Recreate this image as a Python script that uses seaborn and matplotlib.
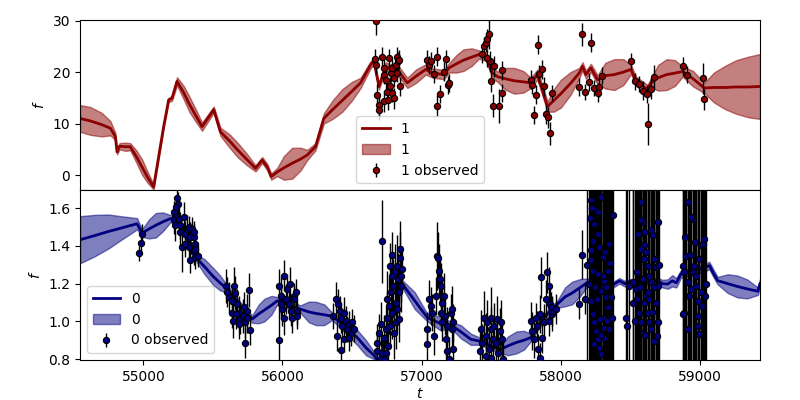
import matplotlib
matplotlib.use("Agg")
import matplotlib.pyplot as plt
import seaborn as sns
import numpy as np

# ---- band 1 (top panel): GP mean / sigma and observations ----
t_pred_1 = [54545, 54620, 54700, 54763, 54799, 54811, 54829, 54870, 54906, 54950,
            54990, 55030, 55074, 55146, 55182, 55206, 55242, 55290, 55330, 55380,
            55422, 55506, 55554, 55620, 55680, 55745, 55806, 55854, 55890, 55919,
            55962, 56010, 56070, 56130, 56178, 56237, 56297, 56360, 56430, 56500,
            56561, 56633, 56657, 56693, 56741, 56801, 56835, 56897, 56960, 57029,
            57077, 57160, 57196, 57250, 57300, 57360, 57412, 57460, 57509, 57545,
            57600, 57665, 57730, 57784, 57832, 57904, 57950, 58000, 58070, 58132,
            58156, 58180, 58216, 58264, 58320, 58384, 58450, 58504, 58540, 58624,
            58647, 58700, 58760, 58820, 58875, 58950, 59031, 59100, 59180, 59260,
            59350, 59431]
mean_1 = [11.0, 10.5, 9.8, 9.1, 7.5, 4.5, 5.6, 5.5, 5.5, 3.6,
          1.6, -0.4, -2.3, 9.4, 14.6, 14.9, 18.2, 16.0, 13.8, 11.4,
          9.4, 12.7, 8.4, 6.6, 4.8, 3.0, 1.3, 2.9, 1.6, -0.3,
          0.6, 1.4, 2.3, 3.1, 3.9, 5.5, 11.0, 12.7, 14.5, 16.3,
          17.9, 21.4, 22.1, 17.2, 21.1, 20.1, 20.1, 17.9, 19.2, 20.5,
          19.8, 19.5, 20.8, 21.6, 22.3, 22.9, 23.4, 23.0, 19.8, 19.1,
          18.7, 18.3, 18.1, 17.9, 19.5, 13.3, 14.5, 15.8, 17.8, 19.8,
          21.1, 19.5, 20.8, 18.5, 19.3, 19.5, 20.0, 20.5, 18.2, 16.6,
          17.9, 18.9, 19.5, 19.8, 20.1, 18.7, 16.9, 17.0, 17.0, 17.1,
          17.1, 17.2]
sd_1 = [2.6, 2.7, 2.3, 1.4, 0.7, 0.5, 0.6, 0.8, 0.7, 1.2,
        1.5, 1.1, 0.5, 0.4, 0.4, 0.5, 0.8, 1.3, 1.5, 1.2,
        0.8, 0.6, 0.8, 1.3, 1.4, 1.1, 0.6, 0.6, 0.6, 0.6,
        0.8, 2.3, 3.0, 2.2, 1.0, 0.7, 1.0, 1.8, 2.2, 1.8,
        1.0, 0.7, 0.6, 0.6, 0.8, 1.0, 1.0, 1.0, 1.3, 1.0,
        0.9, 0.9, 0.9, 1.7, 2.1, 1.7, 0.8, 0.8, 1.0, 1.0,
        2.1, 2.5, 2.1, 1.0, 1.0, 1.0, 2.2, 2.7, 2.2, 1.0,
        0.8, 0.8, 0.8, 0.9, 2.5, 3.0, 2.5, 0.9, 0.9, 0.9,
        0.9, 2.5, 3.0, 2.5, 1.0, 1.5, 1.0, 2.9, 4.2, 5.2,
        5.9, 6.3]

t_obs_1 = [56662, 56669, 56669, 56681, 56693, 56693, 56717, 56729, 56729, 56729,
           56741, 56748, 56757, 56765, 56772, 56777, 56789, 56789, 56801, 56801,
           56813, 56820, 56825, 56829, 56837, 56844, 57041, 57053, 57065, 57089,
           57108, 57113, 57132, 57160, 57173, 57189, 57199, 57436, 57448, 57460,
           57468, 57484, 57491, 57473, 57496, 57516, 57520, 57556, 57580, 57580,
           57784, 57796, 57808, 57820, 57839, 57844, 57868, 57880, 57892, 57909,
           57923, 57940, 58132, 58151, 58173, 58204, 58216, 58235, 58264, 58276,
           58293, 58504, 58532, 58563, 58588, 58619, 58624, 58647, 58667, 58875,
           58904, 59019, 59031]
f_obs_1 = [22.6, 29.9, 21.4, 15.6, 13.6, 12.7, 23.0, 20.8, 19.5, 14.3,
           18.5, 16.2, 14.6, 22.7, 17.2, 19.8, 20.8, 15.9, 14.9, 18.8,
           21.4, 19.8, 23.0, 22.1, 22.4, 17.2, 22.4, 21.4, 22.1, 19.6,
           13.5, 23.0, 15.7, 20.1, 22.5, 17.5, 17.9, 23.5, 25.0, 25.7,
           26.5, 27.4, 22.1, 22.7, 18.2, 13.5, 21.1, 13.5, 20.3, 15.9,
           18.5, 17.5, 11.7, 15.6, 25.3, 19.6, 20.5, 17.2, 11.8, 11.2,
           8.1, 15.9, 17.1, 27.3, 16.1, 18.1, 25.7, 16.9, 16.0, 17.0,
           19.3, 22.1, 18.2, 17.7, 16.4, 15.7, 9.9, 16.8, 19.0, 21.1,
           19.5, 18.8, 14.7]
e_obs_1 = [1.8, 2.8, 1.8, 2.0, 2.0, 2.0, 1.8, 1.8, 1.8, 2.0,
           1.8, 1.8, 2.0, 1.8, 1.8, 1.8, 1.8, 1.8, 2.0, 1.8,
           1.8, 1.8, 1.8, 1.8, 1.8, 1.8, 1.8, 1.8, 1.8, 1.8,
           2.0, 1.8, 1.8, 1.8, 1.8, 1.8, 1.8, 1.8, 1.8, 1.8,
           1.8, 3.0, 2.0, 1.8, 2.0, 2.3, 2.0, 3.3, 1.8, 1.8,
           1.8, 1.8, 1.8, 1.8, 1.8, 1.8, 1.8, 1.8, 1.8, 2.0,
           2.2, 1.5, 1.8, 2.3, 1.6, 1.8, 1.8, 1.6, 1.8, 1.8,
           1.6, 1.6, 1.6, 1.6, 1.8, 1.8, 4.0, 2.0, 2.3, 1.8,
           1.6, 3.0, 2.0]

# ---- band 0 (bottom panel) ----
t_pred_0 = [54545, 54650, 54750, 54850, 54955, 54991, 55040, 55090, 55140, 55194,
            55250, 55310, 55386, 55440, 55500, 55550, 55602, 55700, 55782, 55830,
            55870, 55920, 55962, 56129, 56190, 56240, 56300, 56357, 56450, 56537,
            56600, 56657, 56690, 56760, 56820, 56861, 56950, 57041, 57130, 57221,
            57281, 57353, 57412, 57500, 57568, 57620, 57680, 57735, 57784, 57868,
            57976, 58030, 58080, 58140, 58192, 58240, 58288, 58330, 58370, 58420,
            58460, 58500, 58560, 58620, 58696, 58730, 58768, 58800, 58830, 58863,
            58920, 58980, 59030, 59067, 59100, 59127, 59200, 59270, 59340, 59415,
            59431]
mean_0 = [1.433, 1.455, 1.477, 1.497, 1.518, 1.468, 1.490, 1.510, 1.528, 1.545,
          1.540, 1.450, 1.332, 1.290, 1.240, 1.205, 1.172, 1.080, 1.012, 1.040,
          1.060, 1.085, 1.109, 1.065, 1.050, 1.042, 1.035, 1.027, 0.975, 0.914,
          0.860, 0.820, 0.785, 0.950, 1.120, 1.198, 1.110, 1.020, 0.990, 0.975,
          0.945, 0.905, 0.896, 0.870, 0.852, 0.870, 0.888, 0.900, 0.914, 1.012,
          1.092, 1.130, 1.150, 1.180, 1.207, 1.200, 1.198, 1.212, 1.192, 1.215,
          1.200, 1.210, 1.195, 1.210, 1.216, 1.200, 1.198, 1.215, 1.205, 1.252,
          1.262, 1.272, 1.285, 1.296, 1.250, 1.216, 1.200, 1.185, 1.172, 1.160,
          1.200]
sd_0 = [0.125, 0.110, 0.090, 0.060, 0.030, 0.020, 0.050, 0.065, 0.050, 0.020,
        0.020, 0.020, 0.020, 0.040, 0.045, 0.040, 0.020, 0.020, 0.020, 0.050,
        0.060, 0.050, 0.020, 0.020, 0.055, 0.062, 0.055, 0.020, 0.035, 0.040,
        0.040, 0.020, 0.020, 0.020, 0.020, 0.020, 0.045, 0.020, 0.035, 0.020,
        0.035, 0.030, 0.020, 0.020, 0.020, 0.050, 0.058, 0.050, 0.020, 0.020,
        0.020, 0.050, 0.060, 0.045, 0.020, 0.015, 0.015, 0.015, 0.015, 0.015,
        0.015, 0.015, 0.015, 0.015, 0.015, 0.020, 0.025, 0.030, 0.025, 0.020,
        0.020, 0.020, 0.020, 0.020, 0.020, 0.020, 0.050, 0.058, 0.050, 0.020,
        0.025]

t_obs_0 = [54970, 54985, 54990,
           55218, 55230, 55223, 55242, 55247, 55237, 55225, 55254, 55266, 55290,
           55266, 55278, 55302, 55314, 55326, 55338, 55350, 55338, 55362, 55374,
           55362, 55374, 55338, 55391, 55326, 55302, 55362, 55374,
           55597, 55602, 55614, 55638, 55655, 55662, 55674, 55638, 55645, 55686,
           55698, 55717, 55734, 55746, 55758, 55734, 55770, 55686, 55746, 55722,
           55669,
           55974, 55978, 56014, 55986, 55998, 56009, 56022, 56034, 56053, 56045,
           56062, 56069, 56081, 56094, 56101, 55986, 56081, 56105,
           56388, 56398, 56365, 56416, 56417, 56429, 56393, 56422, 56441, 56453,
           56465, 56477, 56489, 56501, 56513, 56441, 56477,
           56712, 56681, 56676, 56693, 56705, 56717, 56729, 56741, 56748, 56753,
           56757, 56765, 56772, 56777, 56784, 56789, 56796, 56801, 56808, 56813,
           56818, 56825, 56829, 56837, 56842, 56844, 56849, 56854, 56840, 56861,
           56825, 56789, 56772, 56741, 56729,
           57041, 57036, 57053, 57065, 57077, 57089, 57101, 57108, 57117, 57125,
           57132, 57137, 57149, 57161, 57166, 57149, 57173, 57185, 57196, 57209,
           57221, 57228, 57221, 57228, 57185, 57137,
           57424, 57436, 57448, 57460, 57473, 57484, 57496, 57501, 57509, 57520,
           57532, 57544, 57549, 57563, 57573, 57580, 57587, 57460, 57496, 57419,
           57784, 57796, 57808, 57820, 57827, 57837, 57851, 57856, 57851, 57868,
           57880, 57892, 57904, 57916, 57923, 57933, 57916, 57940, 57928, 57964,
           58132, 58151, 58173,
           # 58190-58370 block
           58216, 58228, 58240, 58252, 58264, 58276, 58288, 58300, 58312, 58324,
           58336, 58348, 58372, 58360, 58216, 58228, 58240, 58252, 58264, 58276,
           58288, 58300, 58312, 58324, 58336, 58216, 58228, 58264, 58288, 58316,
           58204, 58248, 58283, 58307, 58348, 58220, 58190, 58210, 58226, 58238,
           58258, 58270, 58292, 58306, 58330, 58352, 58366,
           # 58450-58705 block
           58468, 58475, 58576, 58588, 58595, 58600, 58564, 58576, 58612, 58624,
           58635, 58647, 58659, 58671, 58683, 58696, 58700, 58520, 58544, 58564,
           58576, 58588, 58600, 58612, 58624, 58635, 58647, 58671, 58696, 58647,
           58588, 58515, 58492, 58540, 58624, 58683, 58552, 58576, 58530, 58548,
           58570, 58594, 58606, 58630, 58654, 58666, 58690, 58702,
           # 58875-59043 block
           58916, 58947, 58875, 58887, 58899, 58911, 58923, 58935, 58947, 58959,
           58971, 58983, 58995, 59007, 59019, 59031, 59036, 58887, 58875, 58911,
           58995, 58983, 59007, 58971, 58935, 58893, 58929, 58965, 58989, 59013,
           59040]
f_obs_0 = [1.362, 1.415, 1.465,
           1.580, 1.554, 1.536, 1.652, 1.625, 1.607, 1.509, 1.545, 1.509, 1.554,
           1.474, 1.394, 1.465, 1.492, 1.500, 1.447, 1.492, 1.403, 1.447, 1.412,
           1.367, 1.340, 1.328, 1.346, 1.394, 1.412, 1.474, 1.385,
           1.189, 1.157, 1.127, 1.109, 1.189, 1.150, 1.092, 1.047, 1.003, 1.047,
           1.012, 1.029, 0.994, 1.056, 1.168, 0.887, 0.955, 0.985, 1.020, 1.074,
           1.038,
           1.189, 0.901, 1.243, 1.136, 1.065, 1.020, 1.118, 1.172, 1.198, 1.092,
           1.056, 1.020, 1.136, 1.154, 1.051, 1.092, 1.118, 1.029,
           1.118, 1.092, 1.029, 1.056, 1.020, 0.976, 0.923, 0.848, 1.047, 1.003,
           0.958, 0.985, 0.940, 0.994, 0.962, 0.905, 0.914,
           1.424, 0.887, 0.843, 0.940, 0.985, 0.834, 0.914, 0.958, 1.020, 1.118,
           0.869, 1.083, 0.976, 1.154, 1.353, 1.047, 1.189, 0.940, 1.260, 1.100,
           0.994, 1.296, 1.225, 1.154, 1.385, 1.335, 1.243, 1.189, 1.012, 1.278,
           1.065, 1.243, 1.296, 0.834, 0.798,
           0.878, 0.958, 1.118, 1.083, 1.047, 0.923, 1.136, 1.349, 1.335, 1.269,
           1.225, 1.189, 1.100, 1.136, 1.029, 0.994, 0.905, 0.843, 0.798, 1.047,
           1.065, 0.994, 0.958, 0.852, 0.976, 1.047,
           0.958, 0.887, 1.020, 0.923, 0.994, 0.852, 1.020, 0.958, 0.905, 0.976,
           0.887, 1.012, 0.834, 0.949, 0.994, 0.905, 0.798, 0.816, 0.807, 0.843,
           1.003, 0.949, 0.905, 1.020, 0.976, 0.852, 0.807, 1.234, 1.038, 0.914,
           0.994, 1.118, 1.260, 1.189, 1.092, 1.038, 1.003, 1.056, 1.074, 1.065,
           1.092, 1.353, 1.118,
           1.323, 1.269, 1.518, 1.589, 1.465, 1.394, 1.660, 1.340, 1.216, 1.127,
           1.269, 1.412, 1.563, 1.127, 1.109, 1.038, 0.994, 0.949, 0.905, 0.860,
           0.825, 1.020, 0.967, 1.180, 1.074, 1.376, 1.429, 1.252, 1.163, 1.367,
           1.198, 1.180, 1.012, 0.914, 0.958, 1.643, 1.300, 1.550, 1.600, 0.880,
           1.120, 1.580, 0.930, 1.240, 1.000, 1.310, 1.020,
           1.020, 0.976, 1.634, 1.527, 1.474, 1.403, 1.465, 1.385, 1.367, 1.296,
           1.243, 1.483, 1.456, 1.332, 1.287, 1.189, 1.527, 1.100, 1.118, 1.047,
           0.994, 0.940, 1.100, 1.136, 1.047, 0.994, 0.958, 0.896, 0.994, 1.207,
           1.225, 1.207, 1.189, 1.172, 1.154, 1.100, 1.465, 1.536, 1.000, 1.260,
           1.180, 1.330, 0.930, 1.120, 1.050, 1.180, 0.920, 1.300,
           1.634, 1.545, 1.296, 1.260, 1.349, 1.207, 1.136, 1.172, 1.260, 1.296,
           1.189, 1.109, 1.332, 1.403, 1.412, 1.438, 1.136, 1.047, 1.038, 0.958,
           0.932, 0.976, 1.154, 1.243, 1.554, 1.450, 1.350, 1.420, 1.030, 1.080,
           1.200]
e_obs_0 = [0.04, 0.04, 0.05,
           0.06, 0.06, 0.07, 0.06, 0.06, 0.06, 0.08, 0.07, 0.07, 0.08,
           0.08, 0.13, 0.07, 0.07, 0.06, 0.08, 0.06, 0.08, 0.07, 0.07,
           0.07, 0.06, 0.07, 0.06, 0.08, 0.07, 0.06, 0.06,
           0.09, 0.08, 0.08, 0.08, 0.10, 0.09, 0.08, 0.08, 0.09, 0.09,
           0.08, 0.09, 0.08, 0.09, 0.09, 0.08, 0.08, 0.08, 0.08, 0.08,
           0.08,
           0.09, 0.18, 0.08, 0.10, 0.09, 0.09, 0.08, 0.08, 0.09, 0.08,
           0.08, 0.08, 0.07, 0.07, 0.07, 0.08, 0.07, 0.07,
           0.09, 0.08, 0.07, 0.08, 0.08, 0.08, 0.08, 0.07, 0.08, 0.08,
           0.07, 0.07, 0.07, 0.07, 0.07, 0.07, 0.07,
           0.22, 0.10, 0.10, 0.10, 0.12, 0.10, 0.12, 0.12, 0.14, 0.15,
           0.12, 0.15, 0.12, 0.15, 0.12, 0.14, 0.14, 0.14, 0.15, 0.14,
           0.14, 0.16, 0.14, 0.14, 0.15, 0.14, 0.14, 0.14, 0.12, 0.12,
           0.12, 0.12, 0.12, 0.10, 0.10,
           0.09, 0.09, 0.10, 0.10, 0.10, 0.10, 0.10, 0.18, 0.14, 0.14,
           0.12, 0.12, 0.12, 0.12, 0.10, 0.10, 0.10, 0.12, 0.12, 0.10,
           0.12, 0.10, 0.10, 0.10, 0.10, 0.10,
           0.10, 0.10, 0.14, 0.12, 0.12, 0.10, 0.16, 0.12, 0.12, 0.12,
           0.10, 0.12, 0.10, 0.12, 0.12, 0.10, 0.10, 0.10, 0.10, 0.10,
           0.10, 0.10, 0.10, 0.08, 0.08, 0.08, 0.08, 0.11, 0.10, 0.08,
           0.10, 0.10, 0.11, 0.10, 0.09, 0.09, 0.08, 0.08, 0.08, 0.08,
           0.08, 0.13, 0.08,
           0.90, 0.95, 0.90, 1.00, 0.95, 0.90, 1.00, 0.95, 0.90, 0.95,
           1.00, 0.90, 0.95, 0.90, 0.95, 1.00, 0.90, 0.95, 0.90, 1.00,
           0.95, 0.90, 1.00, 0.95, 0.90, 0.95, 1.00, 0.90, 0.95, 0.90,
           0.95, 1.00, 0.90, 0.95, 0.90, 1.00, 0.95, 0.90, 1.00, 0.95,
           0.90, 0.95, 1.00, 0.90, 0.95, 0.90, 0.95,
           0.85, 0.90, 0.95, 0.90, 1.00, 0.95, 0.90, 0.95, 1.00, 0.90,
           0.95, 0.90, 1.00, 0.95, 0.90, 0.95, 1.00, 0.90, 0.95, 0.90,
           0.95, 1.00, 0.90, 0.95, 0.90, 1.00, 0.95, 0.90, 1.00, 0.95,
           0.90, 0.95, 1.00, 0.90, 0.95, 0.90, 0.95, 1.00, 0.90, 0.95,
           0.90, 1.00, 0.95, 0.90, 1.00, 0.95, 0.90, 0.95,
           0.95, 0.90, 1.00, 0.95, 0.90, 0.95, 1.00, 0.90, 0.95, 0.90,
           0.95, 1.00, 0.90, 0.95, 0.90, 1.00, 0.95, 0.90, 1.00, 0.95,
           0.90, 0.95, 1.00, 0.90, 0.95, 0.90, 0.95, 1.00, 0.90, 0.95,
           0.90]

fig, axes = plt.subplots(2, 1, figsize=(8, 4), dpi=100, sharex=True)
fig.subplots_adjust(left=0.1, right=0.95, top=0.95, bottom=0.1, hspace=0)

panels = [
    (axes[0], "1", "darkred", t_pred_1, mean_1, sd_1, t_obs_1, f_obs_1, e_obs_1),
    (axes[1], "0", "navy", t_pred_0, mean_0, sd_0, t_obs_0, f_obs_0, e_obs_0),
]

for ax, name, col, tp, mu, sd, to, fo, eo in panels:
    mu = np.array(mu)
    sd = np.array(sd)
    sns.lineplot(x=tp, y=mu, color=col, lw=2, sort=False, estimator=None,
                 label=name, ax=ax, zorder=2)
    ax.fill_between(tp, mu - sd, mu + sd, color=col, alpha=0.5, label=name, zorder=1)
    ax.errorbar(to, fo, yerr=eo, fmt="o", color=col, mec="black", mew=0.8, ms=4.5,
                ecolor="black", elinewidth=1, label=name + " observed", zorder=3)
    ax.set_ylabel("$f$")

axes[0].set_ylim(-2.9, 30.1)
axes[1].set_ylim(0.795, 1.697)
axes[1].set_xlim(54545, 59431)
axes[1].set_xlabel("$t$", labelpad=2)
axes[0].set_yticks([0, 10, 20, 30])
axes[1].set_xticks([55000, 56000, 57000, 58000, 59000])

axes[0].legend(loc="lower center")
axes[1].legend(loc="lower left")

fig.savefig("out.png", dpi=100)
